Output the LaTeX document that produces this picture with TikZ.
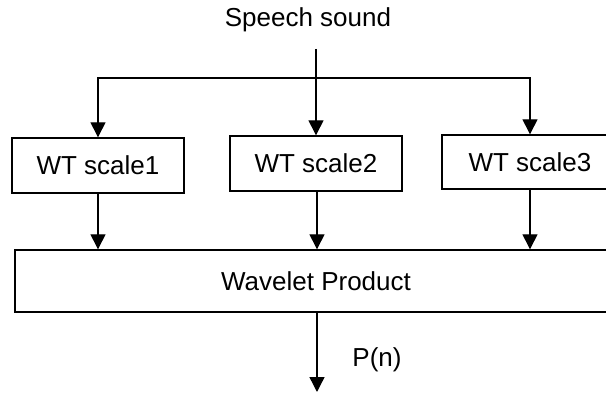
\documentclass[tikz,border=0pt]{standalone}
\usepackage{fontspec}
\setmainfont{Liberation Sans}
\usetikzlibrary{arrows.meta}
\begin{document}
\begin{tikzpicture}[x=1pt,y=-1pt,
  every node/.style={font=\fontsize{26}{30}\selectfont},
  blk/.style={draw, line width=1.4pt, inner sep=0pt, minimum height=55pt},
  arr/.style={line width=1.4pt, -{Triangle[width=15pt,length=15pt]}},
  ln/.style={line width=1.4pt}]
\useasboundingbox (0,0) rectangle (606,393);
\clip (0,0) rectangle (606,393);
\node[inner sep=0pt] (speech) at (308,20) {Speech sound};
\coordinate (src) at (316,49);
\coordinate (split) at (316,78);
\node[blk, minimum width=172pt] (w1) at (98,165.5) {WT scale1};
\node[blk, minimum width=172pt] (w2) at (316,163.5) {WT scale2};
\node[blk, minimum width=176pt, minimum height=54pt] (w3) at (530,162) {WT scale3};
\node[blk, minimum width=602pt, minimum height=62pt] (wp) at (316,281) {Wavelet Product};
\coordinate (out) at (317,392);
\node[inner sep=0pt] (pn) at (377,360) {P(n)};
\draw[arr] (src) -- (w2.north);
\draw[arr] (split) -| (w1.north);
\draw[arr] (split) -| (w3.north);
\draw[arr] (w1.south) -- (w1.south |- wp.north);
\draw[arr] ([xshift=1pt]w2.south) -- ([xshift=1pt]w2.south |- wp.north);
\draw[arr] (w3.south) -- (w3.south |- wp.north);
\draw[arr] ([xshift=1pt]wp.south) -- (out);
\end{tikzpicture}
\end{document}
